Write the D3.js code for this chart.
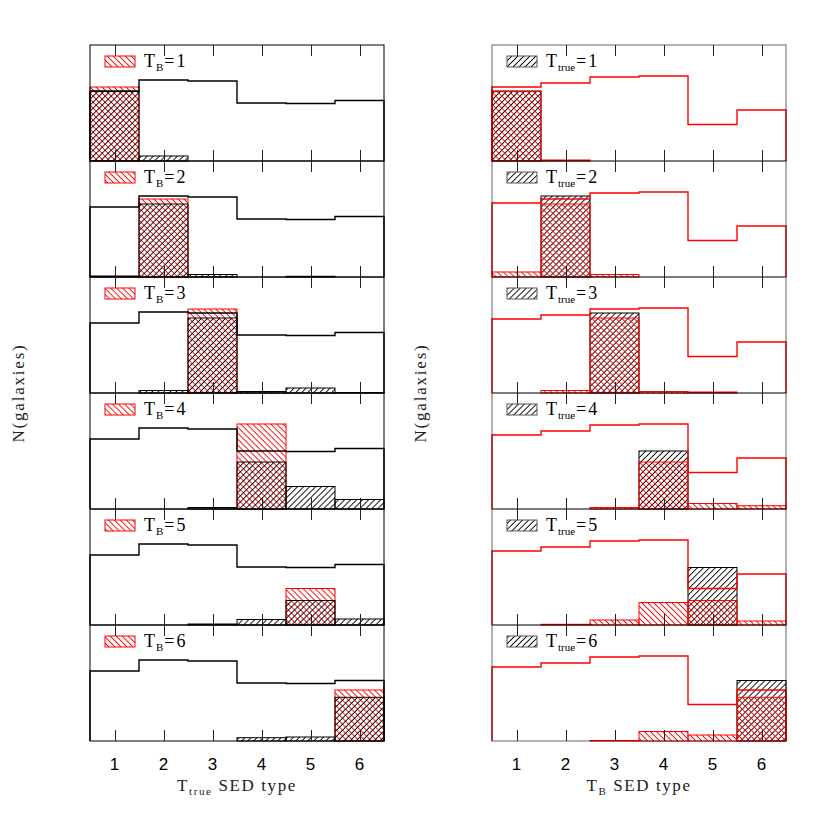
<!DOCTYPE html>
<html>
<head>
<meta charset="utf-8">
<script src="https://cdn.jsdelivr.net/npm/d3@7"></script>
<style>
  html, body { margin: 0; padding: 0; background: #fff; }
  svg { display: block; }
</style>
</head>
<body>
<svg id="chart" width="830" height="830"></svg>
<script>
// ---------------- data ----------------
const sedTypes = [1, 2, 3, 4, 5, 6];
const tickLabels = ["1", "2", "3", "4", "5", "6"];

// total number of galaxies per true SED type (black step line, left column)
const totalTrue = [70, 81, 80, 58, 57.5, 60.5];
// total number of galaxies per BPZ SED type (red step line, right column)
const totalB = [74, 78, 84, 85, 36.5, 51];

// galaxies with a given T_true, split by T_B (columns: T_B = 1..6)
const trueType1 = [69.5, 1, 0, 0, 0, 0];
const trueType2 = [5, 73, 2.5, 0, 0, 0];
const trueType3 = [0, 2.5, 75, 1.5, 1, 0];
const trueType4 = [0, 0, 1.5, 47, 5.5, 3.3];
const trueType5 = [0, 0.7, 5, 22.5, 24.5, 4];
const trueType6 = [0, 0, 0.5, 9.5, 6, 43.7];
const confusion = [trueType1, trueType2, trueType3, trueType4, trueType5, trueType6];

const yMax = 116;

// ---------------- layout ----------------
const svg = d3.select("#chart");
const panelH = 116, top0 = 45;
const columns = [
  { x0: 90, x1: 384, key: "left" },
  { x0: 492, x1: 786, key: "right" }
];
const RED = "#ff0000";

// hatch patterns
const defs = svg.append("defs");
function hatch(id, color, angle) {
  const p = defs.append("pattern")
    .attr("id", id)
    .attr("patternUnits", "userSpaceOnUse")
    .attr("width", 4.25).attr("height", 10)
    .attr("patternTransform", `rotate(${angle})`);
  p.append("line")
    .attr("x1", 2.1).attr("y1", -1).attr("x2", 2.1).attr("y2", 11)
    .attr("stroke", color).attr("stroke-width", 0.9);
}
hatch("hRed", RED, -45);     // "\\\\" hatching
hatch("hBlack", "#000", 45); // "////" hatching

columns.forEach((col, ci) => {
  const x = d3.scaleLinear().domain([0.5, 6.5]).range([col.x0, col.x1]);

  sedTypes.forEach((t, pi) => {
    const top = top0 + pi * panelH, bottom = top + panelH;
    const y = d3.scaleLinear().domain([0, yMax]).range([bottom, top]);
    const g = svg.append("g");

    // bars
    let redBars, blackBars, stepVals, stepColor;
    if (ci === 0) {
      // left: panel for T_B = t, x axis = T_true
      redBars = sedTypes.map((s, i) => ({ s, v: s === t ? totalB[pi] : 0 }));
      blackBars = sedTypes.map((s, i) => ({ s, v: confusion[i][pi] }));
      stepVals = totalTrue; stepColor = "#000";
    } else {
      // right: panel for T_true = t, x axis = T_B
      blackBars = sedTypes.map((s, i) => ({ s, v: s === t ? totalTrue[pi] : 0 }));
      redBars = sedTypes.map((s, i) => ({ s, v: confusion[pi][i] }));
      stepVals = totalB; stepColor = RED;
    }

    function drawBars(data, fill, stroke) {
      g.selectAll(null)
        .data(data.filter(d => d.v > 0))
        .join("rect")
        .attr("x", d => x(d.s - 0.5))
        .attr("width", d => x(d.s + 0.5) - x(d.s - 0.5))
        .attr("y", d => y(d.v))
        .attr("height", d => y(0) - y(d.v))
        .attr("fill", `url(#${fill})`)
        .attr("stroke", stroke)
        .attr("stroke-width", 1);
    }
    if (ci === 0) {
      drawBars(redBars, "hRed", RED);
      drawBars(blackBars, "hBlack", "#000");
    } else {
      drawBars(blackBars, "hBlack", "#000");
      drawBars(redBars, "hRed", RED);
    }

    // step line
    const pts = [[0.5, 0]];
    stepVals.forEach((v, i) => { pts.push([sedTypes[i] - 0.5, v]); pts.push([sedTypes[i] + 0.5, v]); });
    pts.push([6.5, 0]);
    g.append("path")
      .attr("d", d3.line().x(d => x(d[0])).y(d => y(d[1]))(pts))
      .attr("fill", "none")
      .attr("stroke", stepColor)
      .attr("stroke-width", 1.4);

    // frame
    g.append("rect")
      .attr("x", col.x0).attr("y", top)
      .attr("width", col.x1 - col.x0).attr("height", panelH)
      .attr("fill", "none")
      .attr("stroke", "#000")
      .attr("stroke-opacity", ci === 1 ? 0.6 : 1)
      .attr("stroke-width", 1);

    // inward ticks top and bottom
    const tl = 11;
    g.selectAll(null).data(sedTypes).join("line")
      .attr("x1", d => Math.round(x(d)) + 0.5).attr("x2", d => Math.round(x(d)) + 0.5)
      .attr("y1", bottom).attr("y2", bottom - tl)
      .attr("stroke", "#222").attr("stroke-width", 1);
    g.selectAll(null).data(sedTypes).join("line")
      .attr("x1", d => Math.round(x(d)) + 0.5).attr("x2", d => Math.round(x(d)) + 0.5)
      .attr("y1", top).attr("y2", top + tl)
      .attr("stroke", "#222").attr("stroke-width", 1);

    // legend
    const lx = col.x0 + (ci === 0 ? 15 : 15);
    g.append("rect")
      .attr("x", lx).attr("y", top + 11)
      .attr("width", 30).attr("height", 11)
      .attr("fill", ci === 0 ? "url(#hRed)" : "url(#hBlack)")
      .attr("stroke", ci === 0 ? RED : "#555")
      .attr("stroke-width", 1);
    const txt = g.append("text")
      .attr("x", lx + 39).attr("y", top + 22)
      .attr("font-family", "Liberation Serif, serif")
      .attr("font-size", 18)
      .attr("fill", "#000");
    txt.append("tspan").text("T");
    txt.append("tspan").attr("font-size", 11).attr("dy", 4).attr("dx", 1)
      .text(ci === 0 ? "B" : "true");
    txt.append("tspan").attr("dy", -4).attr("dx", 1).text("=");
    txt.append("tspan").attr("dx", 2).text(String(t));
  });

  // x tick labels
  const bottomAll = top0 + 6 * panelH;
  svg.selectAll(null).data(sedTypes).join("text")
    .attr("x", d => x(d)).attr("y", bottomAll + 29)
    .attr("text-anchor", "middle")
    .attr("font-family", "Liberation Sans, Arial, sans-serif")
    .attr("font-size", 17)
    .text((d, i) => tickLabels[i]);

  // x label
  const xl = svg.append("text")
    .attr("x", (col.x0 + col.x1) / 2).attr("y", bottomAll + 50)
    .attr("text-anchor", "middle")
    .attr("font-family", "Liberation Serif, serif")
    .attr("font-size", 17)
    .attr("letter-spacing", 1.6)
    .attr("fill", "#222");
  xl.append("tspan").text("T");
  xl.append("tspan").attr("font-size", 11).attr("dy", 4).text(ci === 0 ? "true" : "B");
  xl.append("tspan").attr("dy", -4).text(" SED type");

  // y label
  const cy = top0 + 3 * panelH;
  const yx = col.x0 - 66;
  svg.append("text")
    .attr("transform", `translate(${yx},${cy}) rotate(-90)`)
    .attr("text-anchor", "middle")
    .attr("font-family", "Liberation Serif, serif")
    .attr("font-size", 17)
    .attr("letter-spacing", 1.8)
    .attr("fill", "#222")
    .text("N(galaxies)");
});
</script>
</body>
</html>
